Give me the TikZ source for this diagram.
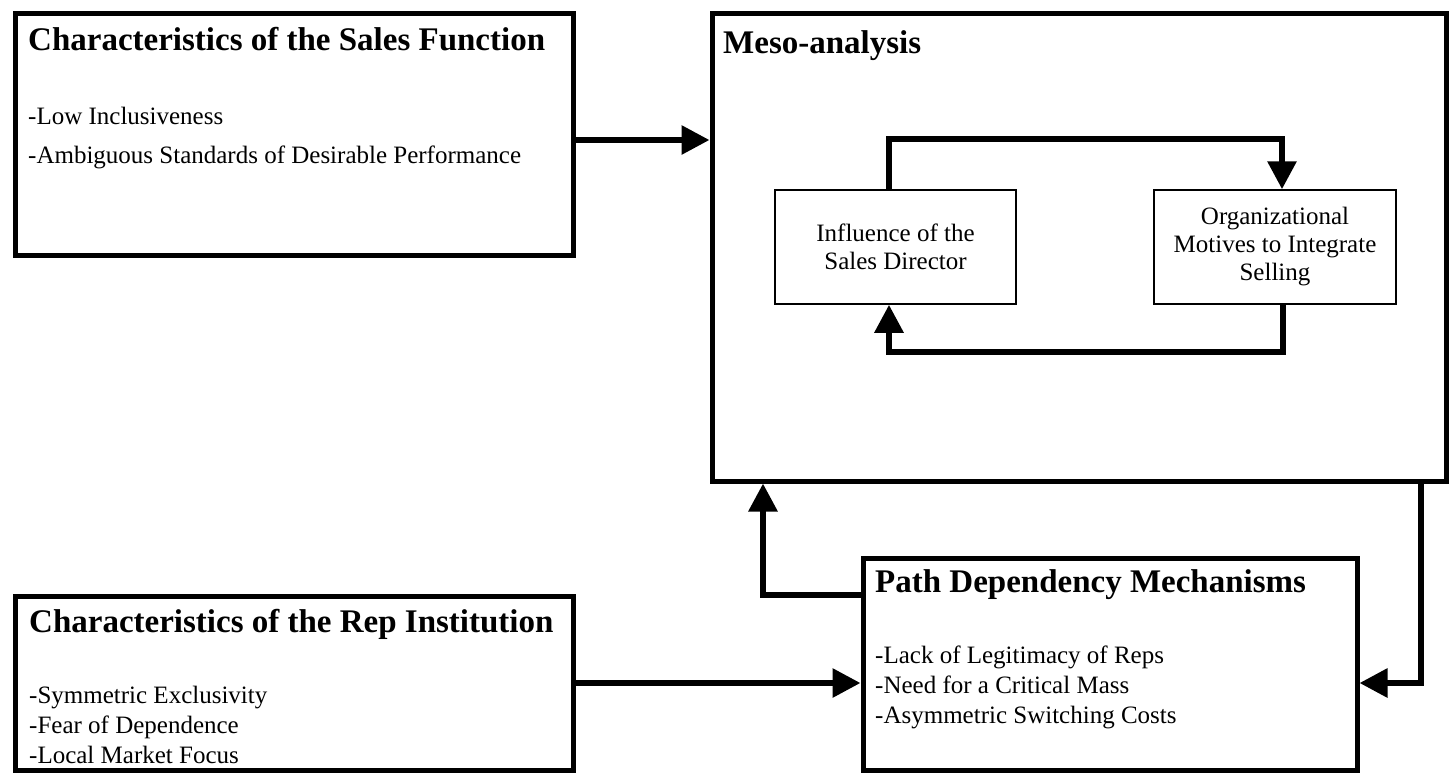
\documentclass[tikz,border=0pt]{standalone}
\usepackage{fontspec}
\setmainfont{Liberation Serif}
\usetikzlibrary{positioning}
\usetikzlibrary{arrows.meta}
\tikzstyle{every link} = []
\tikzstyle{link} = [-{Triangle[length=28pt,width=28pt]}, line width=6pt, draw, every link]
\tikzstyle{block} = [draw, line width=5pt, inner sep=0pt]
\tikzstyle{factor} = [draw, line width=1.5pt, inner sep=0pt, align=center, font=\fontsize{25}{28}\selectfont]
\tikzstyle{heading} = [anchor=base west, inner sep=0pt, font=\fontsize{33}{40}\selectfont\bfseries]
\tikzstyle{listline} = [anchor=base west, inner sep=0pt, font=\fontsize{25}{30}\selectfont]

\begin{document}
\begin{tikzpicture}[x=1pt, y=-1pt]
    \useasboundingbox (0,0) rectangle (1452,772);

    \node[block, minimum width=558, minimum height=242] (sales) at (294,134) {};
    \node[heading] (salestitle) at (28,50) {Characteristics of the Sales Function};
    \node[listline] (sales1) at (28,124) {-Low Inclusiveness};
    \node[listline] (sales2) at (28,163) {-Ambiguous Standards of Desirable Performance};

    \node[block, minimum width=734, minimum height=468] (meso) at (1079,247) {};
    \node[heading] (mesotitle) at (723,53) {Meso-analysis};
    \node[factor, minimum width=241, minimum height=114] (infl) at (895.5,247) {Influence of the\\Sales Director};
    \node[factor, minimum width=242, minimum height=114] (org) at (1275,247) {Organizational\\Motives to Integrate\\Selling};

    \node[block, minimum width=558, minimum height=174] (rep) at (294,683) {};
    \node[heading] (reptitle) at (29,632) {Characteristics of the Rep Institution};
    \foreach \t [count=\i] in {-Symmetric Exclusivity, -Fear of Dependence, -Local Market Focus}
        \node[listline] (rep\i) at (29,673+30*\i) {\t};

    \node[block, minimum width=494, minimum height=212] (path) at (1110,664) {};
    \node[heading] (pathtitle) at (875,592) {Path Dependency Mechanisms};
    \foreach \t [count=\i] in {-Lack of Legitimacy of Reps, -Need for a Critical Mass, -Asymmetric Switching Costs}
        \node[listline] (path\i) at (875,633+30*\i) {\t};

    % connectors
    \draw[link] ([yshift=-6pt]sales.east) -- ([yshift=-6pt]sales.east -| meso.west);
    \draw[link] (rep.east) -- (rep.east -| path.west);

    \coordinate (upbend) at (763,595);
    \draw[link] (upbend -| path.west) -- (upbend) -- (upbend |- meso.south);
    \coordinate (downbend) at (1421,683);
    \draw[link] (downbend |- meso.south) -- (downbend) -- (downbend -| path.east);

    \coordinate (looptl) at (889,139);
    \coordinate (looptr) at (1282,139);
    \coordinate (loopbr) at (1283,352);
    \coordinate (loopbl) at (889,352);
    \draw[link] (looptl |- infl.north) -- (looptl) -- (looptr) -- (looptr |- org.north);
    \draw[link] (loopbr |- org.south) -- (loopbr) -- (loopbl) -- (loopbl |- infl.south);
\end{tikzpicture}
\end{document}
